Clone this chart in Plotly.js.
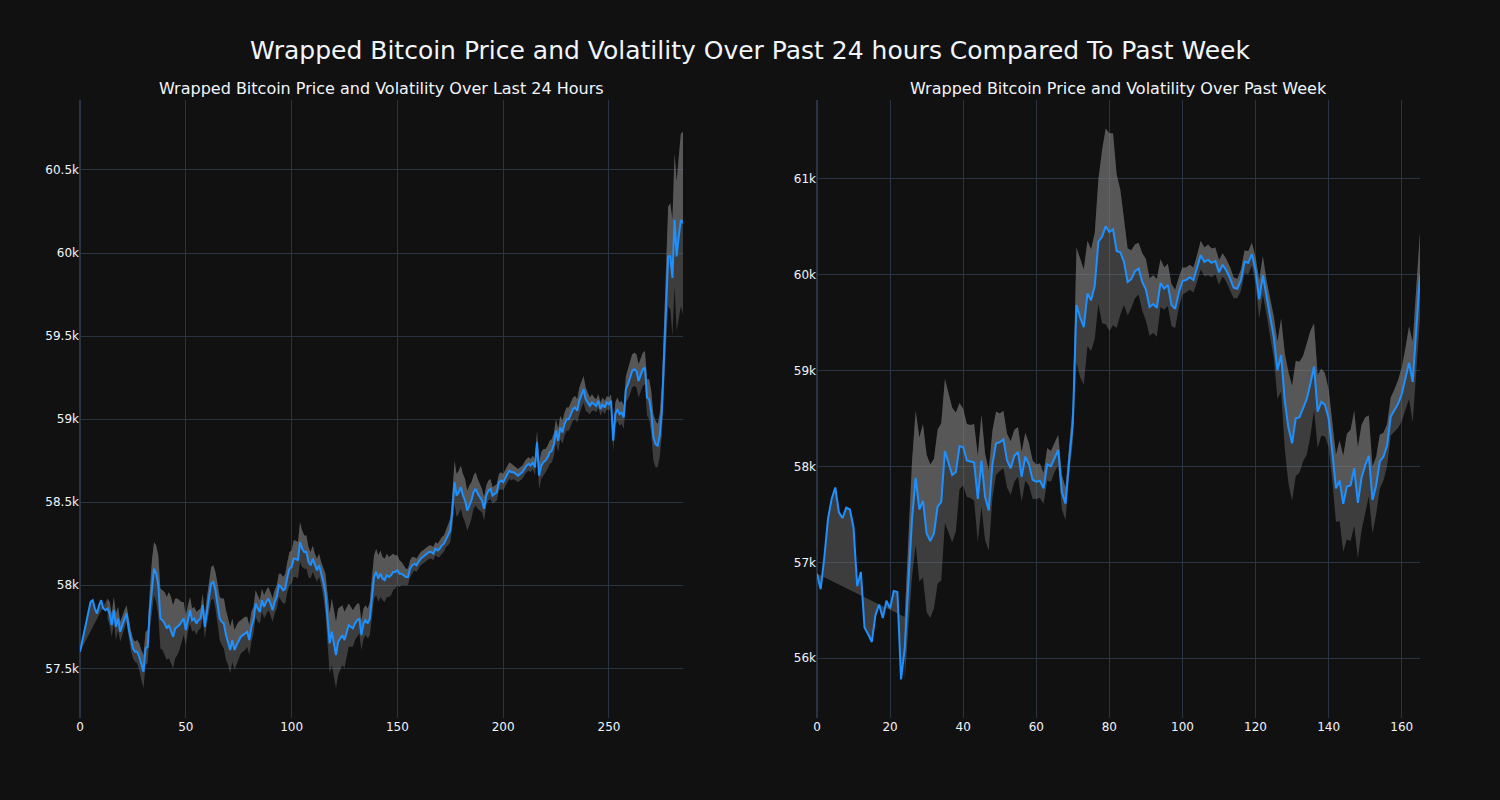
<!DOCTYPE html>
<html><head><meta charset="utf-8">
<script src="https://cdn.plot.ly/plotly-3.0.1.min.js"></script>
<style>html,body{margin:0;padding:0;background:#111111;}</style>
</head><body><div id="chart" style="width:1500px;height:800px;"></div>
<script>
// Values in thousands of USD
const mainTitle = "Wrapped Bitcoin Price and Volatility Over Past 24 hours Compared To Past Week";
const dayTitle = "Wrapped Bitcoin Price and Volatility Over Last 24 Hours";
const weekTitle = "Wrapped Bitcoin Price and Volatility Over Past Week";

// Last 24 hours: price per 5-minute step (index 0..285)
const dayPrice = [
57.60,57.66,57.72,57.78,57.85,57.90,57.91,57.86,57.83,57.88,
57.91,57.86,57.85,57.86,57.83,57.76,57.85,57.75,57.80,57.72,
57.76,57.80,57.83,57.74,57.67,57.62,57.60,57.60,57.57,57.52,
57.48,57.62,57.63,57.85,58.00,58.10,58.07,58.00,57.80,57.79,
57.77,57.74,57.76,57.73,57.69,57.74,57.75,57.76,57.78,57.80,
57.73,57.80,57.85,57.79,57.80,57.77,57.79,57.80,57.88,57.75,
57.85,57.93,58.01,58.02,57.97,57.89,57.80,57.78,57.77,57.70,
57.66,57.61,57.67,57.61,57.64,57.67,57.69,57.70,57.71,57.72,
57.67,57.75,57.79,57.89,57.86,57.84,57.91,57.87,57.90,57.92,
57.89,57.85,57.90,57.93,58.00,57.99,57.97,57.98,58.05,58.10,
58.11,58.16,58.16,58.15,58.26,58.22,58.20,58.20,58.14,58.12,
58.16,58.12,58.09,58.12,58.07,58.02,57.95,57.80,57.65,57.72,
57.65,57.58,57.66,57.68,57.70,57.67,57.72,57.76,57.75,57.74,
57.77,57.79,57.80,57.70,57.77,57.79,57.77,57.80,57.93,58.05,
58.08,58.04,58.07,58.04,58.03,58.06,58.05,58.06,58.08,58.08,
58.09,58.07,58.07,58.06,58.05,58.05,58.10,58.12,58.13,58.12,
58.14,58.16,58.17,58.18,58.19,58.20,58.20,58.19,58.22,58.21,
58.22,58.24,58.25,58.28,58.30,58.33,58.45,58.62,58.54,58.56,
58.59,58.54,58.51,58.45,58.48,58.51,58.56,58.58,58.55,58.53,
58.51,58.46,58.54,58.57,58.58,58.54,58.55,58.56,58.62,58.63,
58.62,58.65,58.67,58.69,58.68,58.68,58.67,58.66,58.67,58.68,
58.70,58.72,58.73,58.72,58.74,58.71,58.86,58.66,58.72,58.74,
58.75,58.77,58.80,58.81,58.85,58.93,58.87,58.95,58.92,58.97,
59.00,59.00,59.03,59.06,59.07,59.05,59.11,59.14,59.18,59.12,
59.10,59.08,59.10,59.09,59.08,59.11,59.06,59.09,59.07,59.10,
59.09,59.11,58.87,59.03,59.06,59.03,59.04,59.01,59.18,59.21,
59.25,59.29,59.30,59.29,59.23,59.26,59.30,59.31,59.13,59.12,
59.04,58.89,58.85,58.84,58.90,59.05,59.40,59.70,59.98,59.98,
59.85,60.20,59.98,60.10,60.20,60.18
];
// volatility half-width of the band, starting at index dayBandStart
const dayBandStart = 13;
const daySpread = [
0.06,0.07,0.07,0.08,0.08,0.07,0.06,0.06,0.05,0.05,
0.05,0.06,0.06,0.06,0.07,0.08,0.09,0.10,0.10,0.10,
0.12,0.15,0.16,0.17,0.18,0.18,0.18,0.19,0.19,0.20,
0.20,0.19,0.18,0.17,0.15,0.12,0.10,0.09,0.08,0.08,
0.07,0.07,0.07,0.06,0.06,0.07,0.07,0.08,0.09,0.10,
0.10,0.11,0.12,0.13,0.14,0.15,0.15,0.14,0.14,0.13,
0.12,0.12,0.11,0.10,0.10,0.10,0.09,0.09,0.09,0.08,
0.08,0.08,0.07,0.07,0.07,0.07,0.07,0.07,0.07,0.07,
0.07,0.07,0.08,0.08,0.09,0.09,0.10,0.10,0.11,0.11,
0.11,0.12,0.11,0.10,0.10,0.09,0.08,0.08,0.07,0.07,
0.07,0.07,0.09,0.12,0.15,0.18,0.20,0.20,0.20,0.20,
0.19,0.18,0.17,0.15,0.13,0.12,0.11,0.10,0.10,0.09,
0.09,0.09,0.09,0.09,0.10,0.12,0.13,0.14,0.14,0.14,
0.13,0.13,0.13,0.12,0.12,0.11,0.10,0.09,0.08,0.07,
0.06,0.05,0.05,0.05,0.05,0.04,0.04,0.04,0.04,0.04,
0.04,0.04,0.04,0.04,0.04,0.04,0.04,0.05,0.05,0.05,
0.05,0.06,0.07,0.10,0.13,0.13,0.13,0.13,0.13,0.13,
0.12,0.12,0.11,0.10,0.10,0.09,0.08,0.07,0.07,0.06,
0.06,0.06,0.05,0.05,0.05,0.05,0.05,0.05,0.05,0.05,
0.05,0.05,0.04,0.04,0.04,0.04,0.04,0.04,0.04,0.04,
0.04,0.04,0.05,0.07,0.08,0.08,0.08,0.07,0.07,0.07,
0.07,0.07,0.07,0.07,0.07,0.07,0.07,0.07,0.07,0.07,
0.07,0.07,0.07,0.08,0.08,0.08,0.07,0.06,0.05,0.05,
0.04,0.04,0.04,0.04,0.04,0.04,0.04,0.04,0.04,0.06,
0.07,0.07,0.07,0.07,0.07,0.08,0.09,0.10,0.10,0.10,
0.10,0.10,0.10,0.10,0.10,0.11,0.12,0.13,0.14,0.14,
0.13,0.13,0.15,0.20,0.25,0.30,0.32,0.35,0.40,0.45,
0.48,0.52,0.55
];

// Past week: price per hour (index 0..165)
const weekPrice = [
56.88,56.72,57.05,57.45,57.66,57.78,57.52,57.46,57.57,57.55,
57.36,56.75,56.90,56.32,56.25,56.17,56.45,56.56,56.42,56.60,
56.52,56.70,56.69,55.78,56.10,56.80,57.45,57.88,57.55,57.64,
57.30,57.22,57.30,57.58,57.63,58.16,58.03,57.91,57.94,58.21,
58.20,58.06,58.05,58.04,57.66,58.06,57.68,57.54,58.02,58.24,
58.25,58.28,58.06,57.98,58.11,58.15,57.89,58.10,58.02,57.86,
57.84,57.85,57.77,58.02,58.00,58.09,58.17,57.73,57.61,58.06,
58.45,59.68,59.55,59.45,59.80,59.73,59.88,60.34,60.39,60.50,
60.44,60.47,60.24,60.23,60.13,59.92,59.95,60.03,60.06,59.92,
59.84,59.66,59.69,59.65,59.91,59.85,59.89,59.68,59.64,59.81,
59.93,59.94,59.97,59.94,60.06,60.20,60.13,60.15,60.12,60.14,
60.02,60.10,60.04,59.96,59.86,59.85,59.94,60.13,60.12,60.21,
60.04,59.74,59.99,59.76,59.55,59.34,59.00,59.16,58.68,58.40,
58.24,58.50,58.51,58.60,58.70,58.86,59.04,58.57,58.67,58.64,
58.50,58.15,57.77,57.85,57.61,57.79,57.80,57.98,57.62,57.88,
58.01,58.11,57.65,57.80,58.05,58.10,58.22,58.52,58.58,58.65,
58.75,58.91,59.08,58.88,59.43,59.99
];
const weekBandStart = 24;
const weekSpread = [
0.33,0.45,0.60,0.70,0.75,0.80,0.82,0.80,0.78,0.80,
0.82,0.75,0.72,0.70,0.62,0.45,0.40,0.38,0.38,0.40,
0.45,0.48,0.45,0.42,0.35,0.33,0.30,0.30,0.28,0.28,
0.27,0.26,0.26,0.25,0.22,0.20,0.18,0.18,0.16,0.17,
0.16,0.15,0.16,0.18,0.17,0.15,0.20,0.60,0.62,0.60,
0.55,0.53,0.55,0.65,0.90,1.02,1.03,1.00,0.80,0.65,
0.45,0.35,0.30,0.28,0.27,0.30,0.32,0.30,0.30,0.30,
0.25,0.22,0.22,0.22,0.20,0.16,0.14,0.13,0.13,0.13,
0.14,0.15,0.15,0.16,0.15,0.14,0.13,0.12,0.12,0.12,
0.11,0.10,0.11,0.12,0.12,0.12,0.14,0.20,0.20,0.18,
0.20,0.22,0.30,0.38,0.50,0.58,0.60,0.60,0.58,0.55,
0.58,0.55,0.45,0.38,0.35,0.33,0.30,0.30,0.35,0.42,
0.50,0.55,0.58,0.60,0.58,0.55,0.50,0.42,0.35,0.30,
0.28,0.25,0.22,0.20,0.22,0.25,0.28,0.32,0.38,0.42,
0.45,0.45
];

const LINE = '#1E90FF';
const FILL = 'rgba(128,128,128,0.4)';

function traces(price, start, spread, xa, ya) {
  const x = price.map((_, i) => i);
  const y = price.map(v => v * 1000);
  const bx = spread.map((_, i) => start + i);
  const up = spread.map((s, i) => (price[start + i] + s) * 1000);
  const lo = spread.map((s, i) => (price[start + i] - s) * 1000);
  const common = {xaxis: xa, yaxis: ya, mode: 'lines', showlegend: false, hoverinfo: 'skip'};
  return [
    Object.assign({x: x, y: y, line: {width: 0, color: LINE}}, common),
    Object.assign({x: bx, y: up, fill: 'tonexty', fillcolor: FILL, line: {width: 0, color: FILL}}, common),
    Object.assign({x: bx, y: lo, fill: 'tonexty', fillcolor: FILL, line: {width: 0, color: FILL}}, common),
    Object.assign({x: x, y: y, line: {width: 2, color: LINE}}, common)
  ];
}

const data = traces(dayPrice, dayBandStart, daySpread, 'x', 'y')
  .concat(traces(weekPrice, weekBandStart, weekSpread, 'x2', 'y2'));

const axisCommon = {
  gridcolor: '#283442', zerolinecolor: '#283442', zerolinewidth: 2,
  linecolor: '#506784', showline: false, ticks: '',
  tickfont: {size: 12, color: '#f2f5fa'}
};

const layout = {
  width: 1500, height: 800,
  paper_bgcolor: '#111111', plot_bgcolor: '#111111',
  font: {family: '"DejaVu Sans", verdana, arial, sans-serif', color: '#f2f5fa', size: 12},
  margin: {l: 80, r: 80, t: 100, b: 82},
  showlegend: false,
  title: {text: mainTitle, x: 0.5, xanchor: 'center', y: 0.9375, yanchor: 'middle', yref: 'container',
          font: {size: 25, color: '#f2f5fa'}},
  xaxis: Object.assign({domain: [0, 0.45], range: [0, 285], dtick: 50, anchor: 'y'}, axisCommon),
  yaxis: Object.assign({domain: [0, 1], range: [57201, 60921], dtick: 500, anchor: 'x'}, axisCommon),
  xaxis2: Object.assign({domain: [0.55, 1], range: [0, 165], dtick: 20, anchor: 'y2'}, axisCommon),
  yaxis2: Object.assign({domain: [0, 1], range: [55378, 61816], dtick: 1000, anchor: 'x2'}, axisCommon),
  annotations: [
    {text: dayTitle, x: 0.225, y: 1, xref: 'paper', yref: 'paper', xanchor: 'center', yanchor: 'bottom',
     showarrow: false, font: {size: 16, color: '#f2f5fa'}},
    {text: weekTitle, x: 0.775, y: 1, xref: 'paper', yref: 'paper', xanchor: 'center', yanchor: 'bottom',
     showarrow: false, font: {size: 16, color: '#f2f5fa'}}
  ]
};

Plotly.newPlot('chart', data, layout, {displayModeBar: false, staticPlot: true});
</script>
</body></html>
